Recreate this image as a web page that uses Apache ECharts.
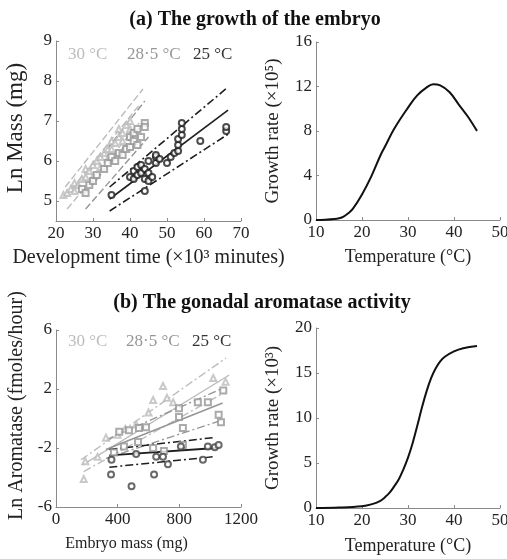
<!DOCTYPE html>
<html><head><meta charset="utf-8">
<script src="https://cdn.jsdelivr.net/npm/echarts@6.0.0/dist/echarts.min.js"></script>
<style>html,body{margin:0;padding:0;background:#fff}#c{width:507px;height:559px}</style>
</head><body><div id="c"></div>
<script>
// ---------- data ----------
const titleA = '(a) The growth of the embryo';
const titleB = '(b) The gonadal aromatase activity';
const tempLabels = ['30 °C', '28·5 °C', '25 °C'];

// (a) left: Ln mass vs development time (x10^3 min)
const massTicksX = [20, 30, 40, 50, 60, 70];
const massTicksY = [5, 6, 7, 8, 9];
const mass30 = [[22,5.15],[23,5.2],[24,5.3],[25,5.25],[25,5.45],[26,5.4],[27,5.55],[28,5.6],[28,5.8],[29,5.75],[30,5.9],[30,5.6],[31,6.0],[32,6.1],[32,5.85],[33,6.2],[34,6.3],[34,6.05],[35,6.5],[35,6.3],[36,6.45],[37,6.6],[37,6.8],[38,6.7],[38,6.5],[39,6.9],[40,6.8],[40,7.0]];
const mass285 = [[27,5.3],[28,5.2],[29,5.4],[30,5.5],[31,5.65],[33,5.8],[34,5.95],[35,6.1],[36,6.0],[37,6.2],[38,6.15],[39,6.3],[40,6.6],[40,6.35],[41,6.7],[41,6.5],[42,6.8],[43,6.6],[44,6.95],[44,6.85],[42,6.4]];
const mass25 = [[35,5.15],[40,5.6],[41,5.55],[41,5.75],[42,5.65],[42,5.85],[43,5.7],[43,5.9],[44,5.25],[44,5.55],[44,5.8],[45,5.5],[45,5.7],[45,6.0],[46,5.6],[47,5.95],[47,6.1],[47,6.15],[48,6.05],[50,5.95],[51,6.1],[52,6.2],[53,6.25],[53,6.4],[53,6.55],[54,6.65],[54,6.8],[54,6.95],[59,6.5],[66,6.75],[66,6.85]];
const massFit30 = [[22.5,5.1],[42.5,7.4]];
const massUp30 = [[22.5,5.35],[43.5,7.8]];
const massLo30 = [[23,4.8],[42.5,6.95]];
const massFit285 = [[27.5,5.15],[44.5,7.05]];
const massUp285 = [[27,5.5],[44,7.5]];
const massLo285 = [[28,4.8],[45,6.6]];
const massFit25 = [[34.5,5.05],[66.5,7.27]];
const massUp25 = [[34.5,5.35],[66.5,7.85]];
const massLo25 = [[34.5,4.75],[66.5,6.67]];

// (a) right: growth rate vs temperature
const growthTemp = [10,12,14,15,16,17,18,20,22,24,25,27,30,32,34,35.5,37,39,41,43,45];
const growthRate = [0,0.02,0.08,0.15,0.3,0.6,1.0,2.3,3.9,5.8,6.6,8.2,10.1,11.2,11.9,12.2,12.1,11.5,10.4,9.3,8.0];
const growthTicksY = [0, 4, 8, 12, 16];
const tempTicksX = [10, 20, 30, 40, 50];

// (b) left: Ln aromatase vs embryo mass (mg)
const aroTicksX = [0, 400, 800, 1200];
const aroTicksY = [-6, -2, 2, 6];
const aro30 = [[180,-4.1],[190,-2.9],[270,-2.6],[324,-1.3],[400,-1.1],[450,-0.7],[520,-0.4],[600,0.4],[630,1.25],[694,2.2],[720,1.4],[760,1.1],[1020,2.75],[1100,2.5]];
const aro285 = [[376,-2.3],[410,-0.9],[441,-1.9],[473,-0.8],[532,-1.6],[538,-0.65],[584,-0.6],[630,-2.0],[700,-2.2],[798,0.7],[798,0.1],[823,-0.65],[823,-1.8],[920,1.1],[985,1.1],[1055,0.25],[1070,-0.25],[1085,1.9]];
const aro25 = [[357,-3.8],[360,-2.8],[490,-4.6],[520,-2.4],[636,-3.8],[650,-2.6],[694,-2.6],[726,-3.1],[810,-1.9],[953,-2.8],[985,-1.9],[1030,-1.95],[1055,-1.8]];
const aroFit30 = [[173,-3.15],[1124,2.95]];
const aroUp30 = [[162,-2.8],[1103,4.1]];
const aroLo30 = [[180,-3.6],[1100,1.8]];
const aroFit285 = [[324,-2.1],[1081,1.05]];
const aroUp285 = [[324,-1.45],[1081,2.05]];
const aroLo285 = [[324,-2.7],[1081,-0.1]];
const aroFit25 = [[346,-2.5],[1038,-2.0]];
const aroUp25 = [[346,-2.1],[1016,-1.3]];
const aroLo25 = [[346,-3.3],[1016,-2.6]];

// (b) right: growth rate vs temperature
const aroTemp = [10,15,20,22,24,25,26,27,28,29,30,31,32,33,34,35,36,37,38,40,42,45];
const aroRate = [0,0.05,0.2,0.4,0.8,1.2,1.7,2.4,3.2,4.3,5.6,7.2,9.1,11.1,12.9,14.4,15.5,16.3,16.8,17.4,17.75,18.0];
const aroRateTicksY = [0, 5, 10, 15, 20];

// ---------- styles ----------
const FONT = 'Liberation Serif';
const C30 = '#bcbcbc', C285 = '#969696', C25 = '#1e1e1e';
const AXC = '#8a8a8a';
const DASH = [7, 3];
const DASHDOT = [8, 3, 2, 3];

function xAx(gi, min, max, ticks, name, gap, fs, pad) {
  return {
    type: 'value', gridIndex: gi, min: min, max: max,
    name: name, nameLocation: 'middle', nameGap: gap,
    nameTextStyle: {fontFamily: FONT, fontSize: fs, color: '#222', padding: pad || 0},
    axisLine: {show: true, onZero: false, lineStyle: {color: AXC, width: 1}},
    axisTick: {show: true, inside: true, length: 3, lineStyle: {color: AXC}, customValues: ticks},
    axisLabel: {fontFamily: FONT, fontSize: 17, color: '#222', margin: 4, customValues: ticks,
      showMinLabel: true, showMaxLabel: true, formatter: v => String(v)},
    splitLine: {show: false}
  };
}
function yAx(gi, min, max, ticks, name, gap, fs, pad) {
  return {
    type: 'value', gridIndex: gi, min: min, max: max,
    name: name, nameLocation: 'middle', nameGap: gap, nameRotate: 90,
    nameTextStyle: {fontFamily: FONT, fontSize: fs, color: '#222', padding: pad || 0},
    axisLine: {show: true, onZero: false, lineStyle: {color: AXC, width: 1}},
    axisTick: {show: true, inside: true, length: 3, lineStyle: {color: AXC}, customValues: ticks},
    axisLabel: {fontFamily: FONT, fontSize: 17, color: '#222', margin: 4, customValues: ticks,
      showMinLabel: true, showMaxLabel: true, formatter: v => String(v)},
    splitLine: {show: false}
  };
}
function sc(data, gi, sym, color) {
  return {type: 'scatter', xAxisIndex: gi, yAxisIndex: gi, data: data, symbol: sym, symbolSize: 6,
    itemStyle: {color: color, borderColor: color, borderWidth: 1}, silent: true, z: 3};
}
function ln(data, gi, color, type, width) {
  return {type: 'line', xAxisIndex: gi, yAxisIndex: gi, data: data, showSymbol: false, symbol: 'none',
    lineStyle: {color: color, type: type, width: width || 1.4}, silent: true, z: 2};
}
function curve(xs, ys, gi) {
  return {type: 'line', xAxisIndex: gi, yAxisIndex: gi, data: xs.map((x, i) => [x, ys[i]]),
    showSymbol: false, symbol: 'none', smooth: 0.4, lineStyle: {color: '#111', width: 2}, silent: true};
}
function txt(x, y, s, color, size, bold) {
  return {type: 'text', x: x, y: y, silent: true,
    style: {text: s, fill: color, font: (bold ? 'bold ' : '') + size + 'px "' + FONT + '"',
      align: 'left', verticalAlign: 'middle', textAlign: 'left', textVerticalAlign: 'middle'}};
}
function ctxt(x, y, s, size) {
  return {type: 'text', x: x, y: y, silent: true,
    style: {text: s, fill: '#111', font: 'bold ' + size + 'px "' + FONT + '"',
      align: 'center', verticalAlign: 'middle', textAlign: 'center', textVerticalAlign: 'middle'}};
}

const chart = echarts.init(document.getElementById('c'), null, {renderer: 'canvas'});
chart.setOption({
  animation: false,
  backgroundColor: '#fff',
  grid: [
    {left: 56, top: 41, width: 185, height: 180, outerBoundsMode: 'none'},
    {left: 316, top: 42, width: 184, height: 178, outerBoundsMode: 'none'},
    {left: 56, top: 330, width: 185, height: 177, outerBoundsMode: 'none'},
    {left: 316, top: 328, width: 184, height: 180, outerBoundsMode: 'none'}
  ],
  xAxis: [
    xAx(0, 20, 70, massTicksX, 'Development time (×10³ minutes)', 27, 20),
    xAx(1, 10, 50, tempTicksX, 'Temperature (°C)', 28, 18),
    xAx(2, 0, 1200, aroTicksX, 'Embryo mass (mg)', 29, 16, [0, 44, 0, 0]),
    xAx(3, 10, 50, tempTicksX, 'Temperature (°C)', 29, 18)
  ],
  yAxis: [
    yAx(0, 4.5, 9, massTicksY, 'Ln Mass (mg)', 29, 23, [0, 0, 0, 6]),
    yAx(1, 0, 16, growthTicksY, 'Growth rate (×10⁵)', 33, 19),
    yAx(2, -6, 6, aroTicksY, 'Ln Aromatase (fmoles/hour)', 29, 20, [0, 0, 0, 26]),
    yAx(3, 0, 20, aroRateTicksY, 'Growth rate (×10³)', 33, 19)
  ],
  series: [
    ln(massUp30, 0, C30, DASH), ln(massFit30, 0, C30, DASH), ln(massLo30, 0, C30, DASH),
    ln(massUp285, 0, C285, DASH), ln(massFit285, 0, C285, DASH), ln(massLo285, 0, C285, DASH),
    ln(massUp25, 0, C25, DASHDOT, 1.6), ln(massFit25, 0, C25, 'solid', 1.6), ln(massLo25, 0, C25, DASHDOT, 1.6),
    sc(mass30, 0, 'emptyTriangle', C30), sc(mass285, 0, 'emptyRect', C285), sc(mass25, 0, 'emptyCircle', C25),
    curve(growthTemp, growthRate, 1),
    ln(aroUp30, 2, C30, DASHDOT), ln(aroFit30, 2, C30, 'solid'), ln(aroLo30, 2, C30, DASHDOT),
    ln(aroUp285, 2, C285, DASHDOT), ln(aroFit285, 2, C285, 'solid'), ln(aroLo285, 2, C285, DASHDOT),
    ln(aroUp25, 2, C25, DASHDOT, 1.5), ln(aroFit25, 2, C25, 'solid', 2), ln(aroLo25, 2, C25, DASHDOT, 1.5),
    sc(aro30, 2, 'emptyTriangle', C30), sc(aro285, 2, 'emptyRect', C285), sc(aro25, 2, 'emptyCircle', '#444'),
    curve(aroTemp, aroRate, 3)
  ],
  graphic: [
    ctxt(255, 20, titleA, 20),
    ctxt(262, 303, titleB, 20),
    txt(68, 55, tempLabels[0], C30, 17), txt(127, 55, tempLabels[1], C285, 17), txt(193, 55, tempLabels[2], '#333', 17),
    txt(68, 342, tempLabels[0], C30, 17), txt(126, 342, tempLabels[1], C285, 17), txt(192, 342, tempLabels[2], '#333', 17)
  ]
});
</script></body></html>
